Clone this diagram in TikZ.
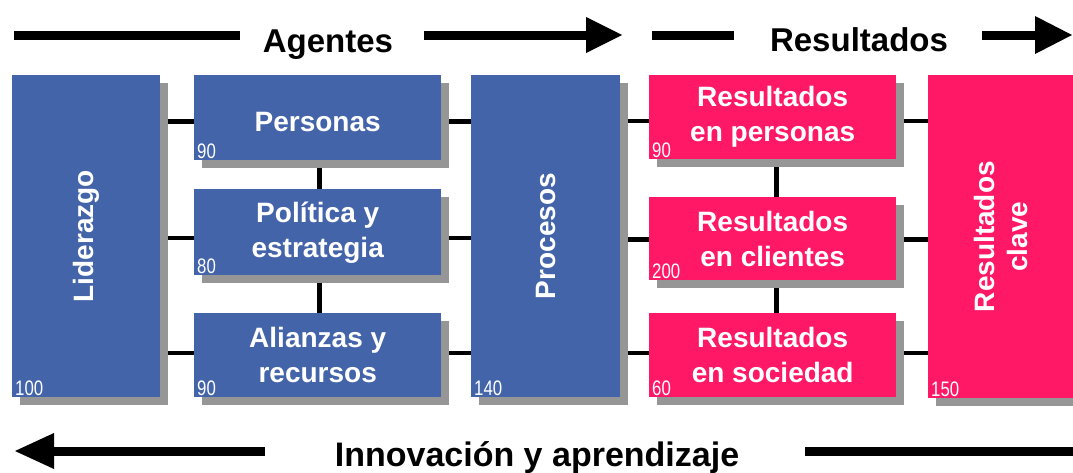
\documentclass[tikz,border=0pt]{standalone}
\usepackage{fontspec}
\setmainfont{Liberation Sans}
\usetikzlibrary{shadows,backgrounds}
\definecolor{efqmblue}{RGB}{68,100,170}
\definecolor{efqmpink}{RGB}{255,24,102}
\definecolor{shadowgray}{RGB}{150,150,150}
\newcommand\numtxt[1]{\scalebox{0.8}[1]{#1}}
\begin{document}
\begin{tikzpicture}[x=1pt,y=-1pt,
  basebox/.style={anchor=north west, inner sep=0pt, text=white,
    font=\fontsize{28}{35}\selectfont\bfseries, align=center,
    drop shadow={shadow xshift=8pt, shadow yshift=-8pt, fill=shadowgray, opacity=1}},
  agentbox/.style={basebox, fill=efqmblue},
  resbox/.style={basebox, fill=efqmpink},
  vtext/.style={rotate=90, text=white, font=\fontsize{28}{33}\selectfont\bfseries, align=center, inner sep=0pt},
  num/.style={anchor=south west, inner xsep=3pt, inner ysep=1.5pt, text=white,
    font=\fontsize{21}{21}\selectfont},
  conn/.style={line width=4.5pt, black},
  bar/.style={line width=9pt, black},
  title/.style={anchor=base, font=\fontsize{33}{33}\selectfont\bfseries, text=black, inner sep=0pt}
]
\clip (0,0) rectangle (1073,472);
\useasboundingbox (0,0) rectangle (1073,472);

% boxes
\node[agentbox, minimum width=148pt, minimum height=322pt] (lid) at (12,75) {};
\node[agentbox, minimum width=247pt, minimum height=85pt, text depth=2pt] (pers) at (194,75) {};
\node[agentbox, minimum width=247pt, minimum height=86pt] (pol) at (194,189) {Política y\\estrategia};
\node[agentbox, minimum width=247pt, minimum height=84pt] (ali) at (194,313) {Alianzas y\\recursos};
\node[agentbox, minimum width=149pt, minimum height=322pt] (proc) at (471,75) {};
\node[resbox, minimum width=247pt, minimum height=84pt] (rp) at (649,75) {Resultados\\en personas};
\node[resbox, minimum width=247pt, minimum height=83pt] (rcl) at (649,197) {Resultados\\en clientes};
\node[resbox, minimum width=247pt, minimum height=84pt] (rs) at (649,313) {Resultados\\en sociedad};
\node[resbox, minimum width=150pt, minimum height=323pt] (rc) at (928,75) {};

% texts
\node[text=white, font=\fontsize{28}{35}\selectfont\bfseries, anchor=base, inner sep=0pt] (perst) at ([yshift=-14pt]pers.center) {Personas};
\node[vtext] (lidt) at (lid.center) {Liderazgo};
\node[vtext] (proct) at (proc.center) {Procesos};
\node[vtext] (rct) at ([xshift=-2pt]rc.center) {Resultados\\clave};

% numbers
\node[num] (lidn) at (lid.south west) {\numtxt{100}};
\node[num] (persn) at (pers.south west) {\numtxt{90}};
\node[num] (poln) at (pol.south west) {\numtxt{80}};
\node[num] (alin) at (ali.south west) {\numtxt{90}};
\node[num] (procn) at (proc.south west) {\numtxt{140}};
\node[num] (rpn) at (rp.south west) {\numtxt{90}};
\node[num] (rcln) at (rcl.south west) {\numtxt{200}};
\node[num] (rsn) at (rs.south west) {\numtxt{60}};
\node[num] (rcn) at (rc.south west) {\numtxt{150}};

% connectors
\begin{scope}[on background layer]
  \draw[conn] (lid.east |- pers.west) ++(0,4) -- ([yshift=-4pt]pers.west);
  \draw[conn] (lid.east |- pol.west) ++(0,6) -- ([yshift=-6pt]pol.west);
  \draw[conn] (lid.east |- ali.west) ++(0,-2) -- ([yshift=2pt]ali.west);
  \draw[conn] ([yshift=-4pt]pers.east) -- ([yshift=-4pt]proc.west |- pers.east);
  \draw[conn] ([yshift=-6pt]pol.east) -- ([yshift=-6pt]proc.west |- pol.east);
  \draw[conn] ([yshift=2pt]ali.east) -- ([yshift=2pt]proc.west |- ali.east);
  \draw[conn] (pers.south) ++(2,0) -- ([xshift=2pt]pol.north);
  \draw[conn] (pol.south) ++(2,0) -- ([xshift=2pt]ali.north);
  \draw[conn] ([yshift=-4pt]proc.east |- rp.west) -- ([yshift=-4pt]rp.west);
  \draw[conn] ([yshift=-1pt]proc.east |- rcl.west) -- ([yshift=-1pt]rcl.west);
  \draw[conn] ([yshift=2pt]proc.east |- rs.west) -- ([yshift=2pt]rs.west);
  \draw[conn] ([yshift=-4pt]rp.east) -- ([yshift=-4pt]rc.west |- rp.east);
  \draw[conn] ([yshift=-1pt]rcl.east) -- ([yshift=-1pt]rc.west |- rcl.east);
  \draw[conn] ([yshift=2pt]rs.east) -- ([yshift=2pt]rc.west |- rs.east);
  \draw[conn] ([xshift=4pt]rp.south) -- ([xshift=4pt]rcl.north);
  \draw[conn] ([xshift=4pt]rcl.south) -- ([xshift=4pt]rs.north);
\end{scope}

% top arrows and titles
\coordinate (a1s) at (14,35);
\coordinate (a1e) at (240,35);
\node[title] (agentes) at (328,52) {Agentes};
\coordinate (a2s) at (424,35);
\coordinate (a2e) at (586,35);
\coordinate (a2t) at (622,35);
\coordinate (a3s) at (652,35);
\coordinate (a3e) at (734,35);
\node[title] (resultados) at (859,51) {Resultados};
\coordinate (a4s) at (982,35);
\coordinate (a4e) at (1035,35);
\coordinate (a4t) at (1072,35);
\draw[bar] (a1s) -- (a1e);
\draw[bar] (a2s) -- ([xshift=2pt]a2e);
\fill[black] ([yshift=18pt]a2e) -- (a2t) -- ([yshift=-18pt]a2e) -- cycle;
\draw[bar] (a3s) -- (a3e);
\draw[bar] (a4s) -- ([xshift=2pt]a4e);
\fill[black] ([yshift=19pt]a4e) -- (a4t) -- ([yshift=-19pt]a4e) -- cycle;

% bottom arrow and title
\coordinate (b1t) at (15,451);
\coordinate (b1h) at (54,451);
\coordinate (b1e) at (265,451);
\node[title, font=\fontsize{34}{34}\selectfont\bfseries] (innov) at (537,466) {Innovación y aprendizaje};
\coordinate (b2s) at (805,451);
\coordinate (b2e) at (1073,451);
\draw[bar] (b1e) -- ([xshift=-2pt]b1h);
\fill[black] ([yshift=18pt]b1h) -- (b1t) -- ([yshift=-18pt]b1h) -- cycle;
\draw[bar] (b2s) -- (b2e);
\end{tikzpicture}
\end{document}
